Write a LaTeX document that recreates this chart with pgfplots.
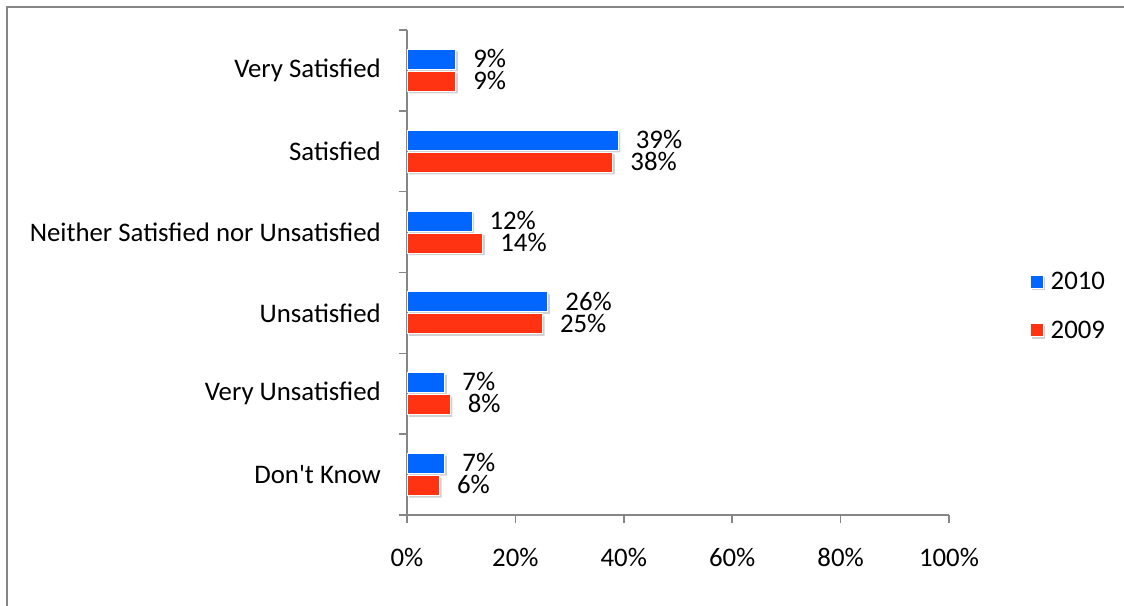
\documentclass[border=0pt]{standalone}
\usepackage{pgfplots}
\pgfplotsset{compat=1.18}
\usepackage{fontspec}
\setmainfont{Carlito}
\definecolor{b10}{HTML}{0066FF}
\definecolor{r09}{HTML}{FF3311}
\definecolor{axg}{HTML}{868686}
\begin{document}
\begin{tikzpicture}[font=\fontsize{26.8}{32}\selectfont]
\useasboundingbox (0pt,0pt) rectangle (1124pt,-605pt);
\draw[axg, line width=2pt] (7pt,-640pt) -- (7pt,-7pt) -- (1160pt,-7pt);
\begin{axis}[
  at={(407pt,-515pt)}, anchor=south west,
  scale only axis, width=542pt, height=485pt,
  xmin=0, xmax=100, ymin=-0.5, ymax=5.5,
  axis lines*=left,
  axis line style={axg, line width=1.5pt},
  tick style={axg, line width=1.5pt},
  tick align=outside,
  major tick length=8pt, minor tick length=8pt,
  xtick={0,20,...,100},
  xticklabel={\pgfmathprintnumber{\tick}\%},
  /pgf/number format/assume math mode=true,
  xticklabel style={yshift=-22pt},
  ytick={0,...,5},
  yticklabels={Don\textquotesingle t Know, Very Unsatisfied, Unsatisfied, Neither Satisfied nor Unsatisfied, Satisfied, Very Satisfied},
  minor ytick={-0.5,0.5,...,5.5},
  major y tick style={draw=none},
  yticklabel style={inner sep=0pt, xshift=-18pt},
  xbar, bar width=20pt,
  point meta=x,
  nodes near coords={\pgfmathprintnumber{\pgfplotspointmeta}\%},
  every node near coord/.append style={anchor=west, inner sep=0pt, xshift=17pt, yshift=-5pt, text height=0.64em, text depth=0pt, black},
  legend style={draw=none, fill=none, at={(1.143,0.431)}, anchor=west, row sep=30pt, nodes={inner sep=0pt},
    /tikz/every odd column/.append style={column sep=7pt}},
  legend cell align=left,
  legend image code/.code={\fill[#1] (0pt,-6.5pt) rectangle (13pt,6.5pt);},
  clip=false,
]
\addplot[bar shift=11pt, fill=b10, draw=white, line width=1pt,
  preaction={fill=black!18, draw=none, transform canvas={xshift=2pt,yshift=-2pt}}]
  coordinates {(9,5) (39,4) (12,3) (26,2) (7,1) (7,0)};
\addplot[bar shift=-11pt, fill=r09, draw=white, line width=1pt,
  preaction={fill=black!18, draw=none, transform canvas={xshift=2pt,yshift=-2pt}}]
  coordinates {(9,5) (38,4) (14,3) (25,2) (8,1) (6,0)};
\legend{2010,2009}
\end{axis}
\end{tikzpicture}
\end{document}
